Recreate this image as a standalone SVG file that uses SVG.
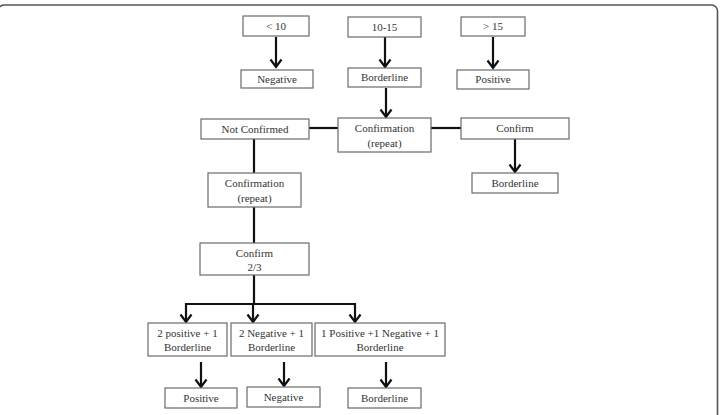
<svg xmlns="http://www.w3.org/2000/svg" width="720" height="415" viewBox="0 0 720 415">
<style>
.box rect{fill:#fff;stroke:#6a6a6a;stroke-width:1.2}
.box text{font-family:"Liberation Serif","Times New Roman",serif;font-size:11px;fill:#333;text-anchor:middle}
.c{stroke:#111;stroke-width:2.2;fill:none}
</style>
<defs>
<marker id="ah" markerUnits="userSpaceOnUse" markerWidth="12" markerHeight="16" viewBox="-10 -8 12 16" refX="0" refY="0" orient="auto-start-reverse">
<path d="M-7.5,-5.5 L0,0 L-7.5,5.5" fill="none" stroke="#111" stroke-width="2.2"/>
</marker>
</defs>
<rect x="-2" y="5" width="719.5" height="420" rx="6" fill="none" stroke="#555" stroke-width="1.6"/>
<g id="connectors">
<line class="c" x1="276" y1="37" x2="276" y2="67" marker-end="url(#ah)"/>
<line class="c" x1="385" y1="37" x2="385" y2="67" marker-end="url(#ah)"/>
<line class="c" x1="493" y1="37" x2="493" y2="68" marker-end="url(#ah)"/>
<line class="c" x1="386" y1="88" x2="386" y2="117" marker-end="url(#ah)"/>
<line class="c" x1="309" y1="128" x2="338" y2="128"/>
<line class="c" x1="431" y1="128" x2="461" y2="128"/>
<line class="c" x1="254" y1="139" x2="254" y2="173"/>
<line class="c" x1="515" y1="139" x2="515" y2="172" marker-end="url(#ah)"/>
<line class="c" x1="254" y1="207" x2="254" y2="243"/>
<line class="c" x1="254" y1="275" x2="254" y2="305"/>
<path class="c" d="M186,322 V304 H355 V322" marker-start="url(#ah)" marker-end="url(#ah)"/>
<line class="c" x1="253" y1="304" x2="253" y2="322" marker-end="url(#ah)"/>
<line class="c" x1="201" y1="362" x2="201" y2="387" marker-end="url(#ah)"/>
<line class="c" x1="284" y1="362" x2="284" y2="386" marker-end="url(#ah)"/>
<line class="c" x1="386" y1="362" x2="386" y2="387" marker-end="url(#ah)"/>
</g>
<g id="lt10" class="box"><rect x="243" y="16" width="66" height="20"/><text x="276" y="30">&lt; 10</text></g>
<g id="r1015" class="box"><rect x="348" y="17" width="73" height="20"/><text x="384.5" y="31">10-15</text></g>
<g id="gt15" class="box"><rect x="461" y="17" width="64" height="19"/><text x="493" y="30">&gt; 15</text></g>
<g id="neg1" class="box"><rect x="241" y="70" width="72" height="18"/><text x="277" y="83">Negative</text></g>
<g id="bord1" class="box"><rect x="348" y="68" width="73" height="19"/><text x="384.5" y="81">Borderline</text></g>
<g id="pos1" class="box"><rect x="457" y="70" width="72" height="19"/><text x="493" y="83">Positive</text></g>
<g id="notconf" class="box"><rect x="201" y="119" width="108" height="20"/><text x="255" y="133">Not Confirmed</text></g>
<g id="confrep1" class="box"><rect x="338" y="118" width="93" height="34"/><text x="384.5" y="132">Confirmation</text><text x="384.5" y="147">(repeat)</text></g>
<g id="confirm" class="box"><rect x="461" y="118" width="108" height="21"/><text x="515" y="132">Confirm</text></g>
<g id="bord2" class="box"><rect x="472" y="173" width="86" height="20"/><text x="515" y="187">Borderline</text></g>
<g id="confrep2" class="box"><rect x="208" y="173" width="93" height="34"/><text x="254.5" y="187">Confirmation</text><text x="254.5" y="202">(repeat)</text></g>
<g id="confirm23" class="box"><rect x="200" y="243" width="109" height="32"/><text x="254.5" y="257">Confirm</text><text x="254.5" y="271">2/3</text></g>
<g id="res1" class="box"><rect x="148" y="323" width="79" height="33"/><text x="187.5" y="337">2 positive + 1</text><text x="187.5" y="351">Borderline</text></g>
<g id="res2" class="box"><rect x="231" y="323" width="81" height="33"/><text x="271.5" y="337">2 Negative + 1</text><text x="271.5" y="351">Borderline</text></g>
<g id="res3" class="box"><rect x="315" y="323" width="130" height="33"/><text x="380" y="337">1 Positive +1 Negative + 1</text><text x="380" y="351">Borderline</text></g>
<g id="pos2" class="box"><rect x="165" y="388" width="72" height="20"/><text x="201" y="402">Positive</text></g>
<g id="neg2" class="box"><rect x="247" y="387" width="73" height="20"/><text x="283.5" y="401">Negative</text></g>
<g id="bord3" class="box"><rect x="348" y="388" width="73" height="20"/><text x="384.5" y="402">Borderline</text></g>
</svg>
